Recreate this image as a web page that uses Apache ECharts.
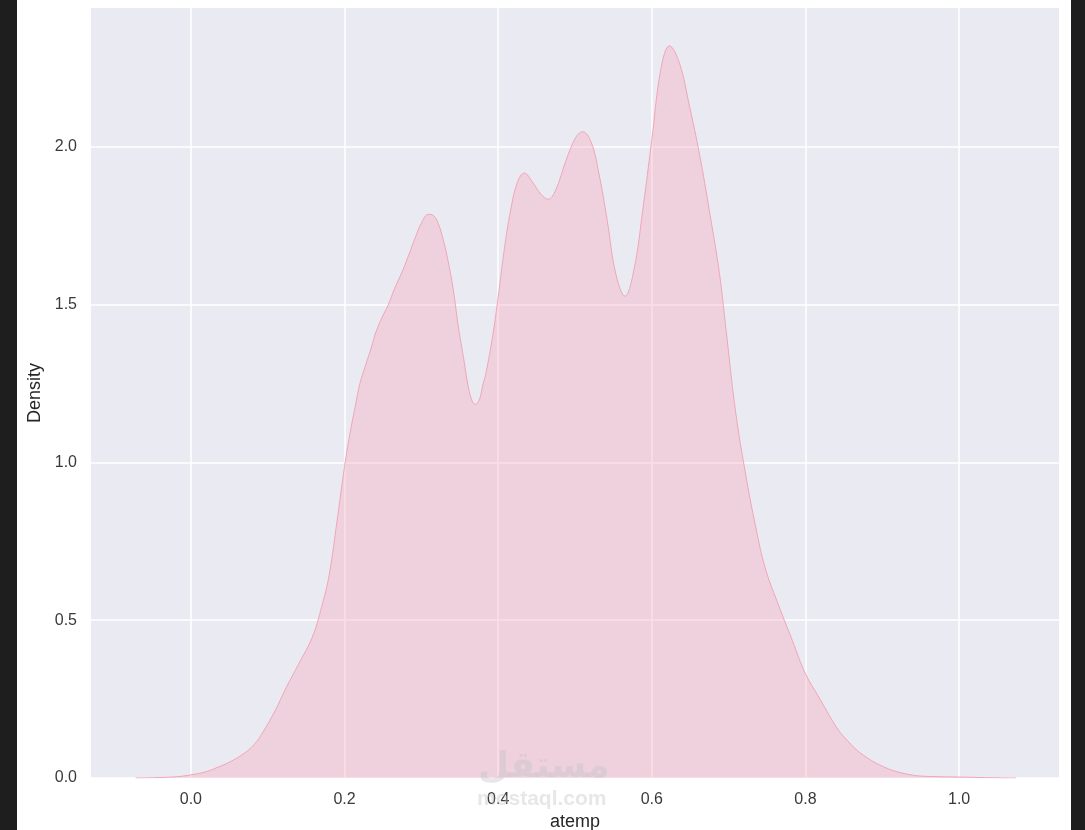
<!DOCTYPE html>
<html>
<head>
<meta charset="utf-8">
<script src="https://cdn.jsdelivr.net/npm/echarts@6/dist/echarts.min.js"></script>
<style>
html,body{margin:0;padding:0;background:#ffffff;}
#chart{width:1085px;height:830px;}
</style>
</head>
<body>
<div id="chart"></div>
<script>
// atemp values (x) and KDE density (y)
const atemp = [-0.072,-0.05,-0.0185,0,0.02,0.033,0.05,0.068,0.082,0.094,0.11,0.124,0.14,0.158,0.17,0.18,0.19,0.2,0.207,0.214,0.22,0.227,0.235,0.24,0.248,0.257,0.265,0.275,0.284,0.292,0.3,0.309,0.316,0.322,0.328,0.335,0.342,0.348,0.355,0.361,0.366,0.37,0.375,0.38,0.384,0.393,0.4,0.408,0.416,0.425,0.434,0.445,0.456,0.465,0.475,0.488,0.501,0.51,0.521,0.531,0.542,0.553,0.565,0.577,0.588,0.6,0.612,0.623,0.636,0.649,0.662,0.675,0.688,0.696,0.709,0.722,0.735,0.748,0.766,0.783,0.8,0.818,0.832,0.844,0.854,0.866,0.875,0.886,0.897,0.908,0.919,0.935,0.949,0.975,1.0,1.04,1.074];
const density = [0.0,0.001,0.004,0.01,0.02,0.032,0.05,0.076,0.105,0.146,0.215,0.286,0.36,0.446,0.54,0.643,0.81,0.987,1.09,1.178,1.25,1.305,1.365,1.407,1.455,1.5,1.55,1.604,1.66,1.712,1.758,1.786,1.782,1.757,1.71,1.636,1.54,1.432,1.33,1.241,1.195,1.184,1.195,1.245,1.282,1.403,1.524,1.675,1.796,1.887,1.917,1.887,1.849,1.834,1.864,1.955,2.03,2.048,2.015,1.917,1.766,1.599,1.527,1.614,1.796,2.023,2.249,2.32,2.265,2.129,1.977,1.796,1.599,1.433,1.161,0.964,0.798,0.662,0.541,0.435,0.33,0.254,0.194,0.148,0.12,0.09,0.073,0.055,0.041,0.029,0.02,0.011,0.0063,0.004,0.003,0.001,0.0];
const xTicks = [0.0,0.2,0.4,0.6,0.8,1.0];
const yTicks = [0.0,0.5,1.0,1.5,2.0];

const points = atemp.map((x,i)=>[x,density[i]]);
const chart = echarts.init(document.getElementById('chart'));
const font = '"Liberation Sans", Arial, sans-serif';
chart.setOption({
  animation:false,
  backgroundColor:'#ffffff',
  grid:{left:91,right:26,top:8,bottom:52,outerBoundsMode:'none',containLabel:false,show:true,backgroundColor:'#EAEAF2',borderWidth:0},
  xAxis:{
    type:'value',min:-0.13,max:1.13,
    name:'atemp',nameLocation:'middle',nameGap:35,
    nameTextStyle:{fontFamily:font,fontSize:18,color:'#262626'},
    axisLine:{show:false},
    axisTick:{show:false,customValues:xTicks},
    axisLabel:{customValues:xTicks,fontFamily:font,fontSize:16,color:'#3a3a3a',margin:14,formatter:v=>v.toFixed(1)},
    splitLine:{show:true,lineStyle:{color:'#ffffff',width:1.5}}
  },
  yAxis:{
    type:'value',min:0,max:2.44,
    name:'Density',nameLocation:'middle',nameGap:45,nameRotate:90,
    nameTextStyle:{fontFamily:font,fontSize:18,color:'#262626'},
    axisLine:{show:false},
    axisTick:{show:false,customValues:yTicks},
    axisLabel:{customValues:yTicks,fontFamily:font,fontSize:16,color:'#3a3a3a',margin:14,formatter:v=>v.toFixed(1)},
    splitLine:{show:true,lineStyle:{color:'#ffffff',width:1.5}}
  },
  graphic:[
    {type:'rect',left:0,top:0,shape:{width:17,height:830},style:{fill:'#1e1e1e'},z:100},
    {type:'rect',left:1071,top:0,shape:{width:14,height:830},style:{fill:'#1e1e1e'},z:100},
    {type:'text',left:478,top:750,style:{text:'مستقل',font:'bold 36px "DejaVu Sans", sans-serif',fill:'rgba(195,195,200,0.4)'},z:100},
    {type:'text',left:477,top:789,style:{text:'mostaql.com',font:'bold 21px "Liberation Sans", sans-serif',fill:'rgba(195,195,200,0.4)'},z:100}
  ],
  series:[{
    type:'line',data:points,smooth:0.4,showSymbol:false,
    lineStyle:{color:'rgb(240,165,182)',width:1},
    areaStyle:{color:'rgba(247,168,188,0.55)'}
  }]
});
</script>
</body>
</html>
